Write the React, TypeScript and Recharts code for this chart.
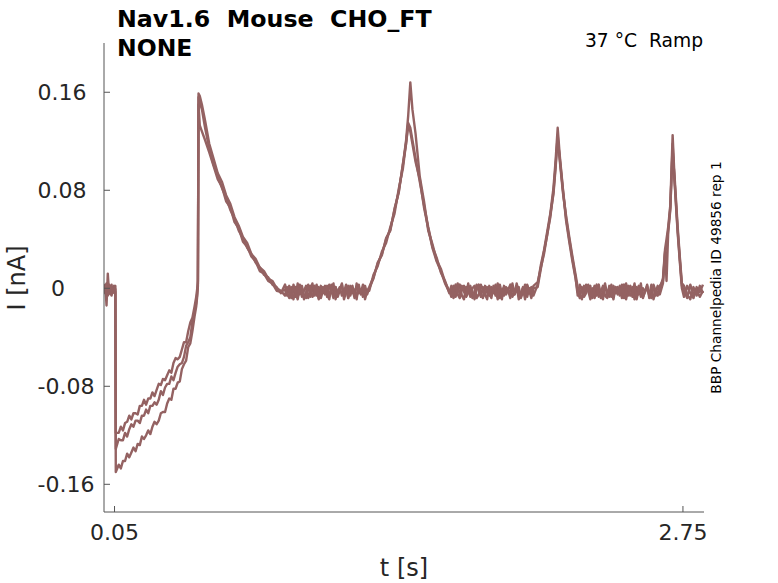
import React from 'react';
import { LineChart, Line, XAxis, YAxis } from 'recharts';

// time [s]
const T: number[] = [
  // holding
  0, 0.006, 0.012, 0.018, 0.024, 0.03, 0.036, 0.042, 0.048, 0.054,
  0.056,
  // first step
  0.07, 0.08, 0.09, 0.1, 0.11, 0.12, 0.13, 0.14, 0.15, 0.16,
  0.17, 0.18, 0.19, 0.2, 0.21, 0.22, 0.23, 0.24, 0.25, 0.26,
  0.27, 0.28, 0.29, 0.3, 0.31, 0.32, 0.33, 0.34, 0.35, 0.36,
  0.37, 0.38, 0.39, 0.4, 0.41, 0.42, 0.43, 0.438, 0.443, 0.446,
  0.449,
  // tail
  0.455, 0.465, 0.48, 0.5, 0.52, 0.54, 0.56, 0.58, 0.6, 0.62,
  0.64, 0.66, 0.68, 0.7, 0.72, 0.74, 0.76, 0.78, 0.8, 0.82, 0.84,
  // flat 1
  0.86, 0.87, 0.88, 0.89, 0.9, 0.91, 0.92, 0.93, 0.94, 0.95,
  0.96, 0.97, 0.98, 0.99, 1.0, 1.01, 1.02, 1.03, 1.04, 1.05,
  1.06, 1.07, 1.08, 1.09, 1.1, 1.11, 1.12, 1.13, 1.14, 1.15,
  1.16, 1.17, 1.18, 1.19, 1.2, 1.21, 1.22, 1.23, 1.24, 1.25,
  // ramp 1
  1.26, 1.28, 1.3, 1.32, 1.34, 1.36, 1.38, 1.4, 1.42, 1.435, 1.445,
  1.455, 1.465, 1.48, 1.5, 1.52, 1.54, 1.56, 1.58, 1.6, 1.62, 1.64,
  // flat 2
  1.65, 1.66, 1.67, 1.68, 1.69, 1.7, 1.71, 1.72, 1.73, 1.74,
  1.75, 1.76, 1.77, 1.78, 1.79, 1.8, 1.81, 1.82, 1.83, 1.84,
  1.85, 1.86, 1.87, 1.88, 1.89, 1.9, 1.91, 1.92, 1.93, 1.94,
  1.95, 1.96, 1.97, 1.98, 1.99, 2.0, 2.01, 2.02, 2.03, 2.04,
  // ramp 2
  2.06, 2.075, 2.09, 2.105, 2.12, 2.135, 2.145, 2.155, 2.165, 2.18, 2.195, 2.21, 2.225, 2.24,
  // flat 3
  2.25, 2.26, 2.27, 2.28, 2.29, 2.3, 2.31, 2.32, 2.33, 2.34,
  2.35, 2.36, 2.37, 2.38, 2.39, 2.4, 2.41, 2.42, 2.43, 2.44,
  2.45, 2.46, 2.47, 2.48, 2.49, 2.5, 2.51, 2.52, 2.53, 2.54,
  2.55, 2.56, 2.57, 2.58, 2.59, 2.6, 2.61, 2.62, 2.63, 2.64,
  // ramp 3
  2.655, 2.665, 2.672, 2.68, 2.69, 2.701, 2.708, 2.715, 2.725, 2.735, 2.745,
  // flat 4
  2.755, 2.77, 2.785, 2.8, 2.815, 2.83, 2.845,
];

// current [nA], repetition 1
const I1: number[] = [
  0.001, -0.004, 0.002, -0.002, 0.003, -0.005, 0.0, -0.003, 0.002, -0.001,
  -0.150,
  -0.144, -0.147, -0.141, -0.141, -0.135, -0.138, -0.134, -0.130, -0.133, -0.127,
  -0.128, -0.121, -0.123, -0.120, -0.116, -0.119, -0.113, -0.109, -0.111, -0.108,
  -0.102, -0.101, -0.101, -0.094, -0.090, -0.091, -0.082, -0.082, -0.077, -0.076,
  -0.066, -0.062, -0.059, -0.048, -0.045, -0.035, -0.023, -0.015, -0.006, 0.002,
  0.150,
  0.133, 0.128, 0.121, 0.111, 0.100, 0.089, 0.083, 0.071, 0.066, 0.054,
  0.049, 0.038, 0.034, 0.026, 0.022, 0.014, 0.012, 0.006, 0.004, -0.002, -0.003,
  -0.001, -0.006, 0.002, -0.004, -0.009, 0.001, -0.005, 0.003, -0.007, -0.002,
  0.002, -0.008, -0.003, 0.004, -0.006, -0.001, -0.009, 0.002, -0.004, 0.0,
  -0.007, 0.003, -0.002, -0.008, 0.001, -0.005, -0.001, 0.003, -0.009, -0.003,
  0.002, -0.006, 0.0, -0.008, 0.004, -0.004, -0.001, -0.007, 0.002, -0.005,
  0.0, 0.008, 0.021, 0.027, 0.041, 0.047, 0.065, 0.078, 0.102, 0.118, 0.133,
  0.128, 0.118, 0.103, 0.089, 0.066, 0.049, 0.033, 0.022, 0.014, 0.004, -0.003,
  -0.004, 0.002, -0.007, -0.001, 0.003, -0.006, -0.009, 0.001, -0.003, 0.002,
  -0.008, -0.004, 0.003, -0.002, -0.007, 0.001, -0.005, -0.009, 0.002, -0.003,
  0.0, -0.006, 0.004, -0.008, -0.002, 0.001, -0.005, -0.001, 0.003, -0.007,
  -0.003, 0.002, -0.009, -0.004, 0.001, -0.006, 0.003, -0.002, -0.008, 0.0,
  0.001, 0.016, 0.030, 0.043, 0.060, 0.077, 0.098, 0.122, 0.106, 0.080, 0.055, 0.038, 0.022, 0.008,
  -0.003, -0.008, 0.001, -0.005, 0.003, -0.002, -0.009, -0.004, 0.002, -0.006,
  0.001, -0.008, -0.003, 0.004, -0.005, -0.001, -0.007, 0.002, -0.004, 0.001,
  -0.006, -0.002, 0.003, -0.009, -0.001, 0.002, -0.007, -0.004, 0.001, -0.005,
  0.004, -0.008, -0.002, 0.0, -0.006, 0.003, -0.009, -0.003, 0.002, -0.005,
  0.004, 0.028, 0.035, 0.047, 0.066, 0.113, 0.095, 0.073, 0.045, 0.022, 0.0,
  -0.007, 0.002, -0.004, -0.008, 0.001, -0.003, 0.003,
];

// current [nA], repetition 2
const I2: number[] = [
  -0.002, 0.003, -0.014, 0.012, -0.004, 0.002, -0.006, 0.001, -0.003, 0.002,
  -0.131,
  -0.123, -0.124, -0.124, -0.118, -0.121, -0.115, -0.111, -0.113, -0.108, -0.108,
  -0.110, -0.104, -0.104, -0.099, -0.102, -0.096, -0.096, -0.093, -0.095, -0.091,
  -0.084, -0.087, -0.081, -0.078, -0.078, -0.072, -0.075, -0.069, -0.064, -0.062,
  -0.061, -0.056, -0.047, -0.044, -0.040, -0.027, -0.019, -0.012, -0.004, 0.004,
  0.156,
  0.152, 0.146, 0.131, 0.114, 0.101, 0.092, 0.082, 0.074, 0.064, 0.057,
  0.047, 0.041, 0.033, 0.028, 0.021, 0.017, 0.011, 0.009, 0.003, 0.001, -0.004,
  0.003, -0.004, -0.008, 0.001, -0.002, -0.007, 0.004, -0.005, 0.0, -0.009,
  -0.003, 0.003, -0.007, -0.001, 0.002, -0.006, 0.001, -0.008, -0.002, 0.002,
  -0.005, -0.009, 0.003, -0.003, 0.001, -0.007, -0.002, 0.004, -0.006, 0.0,
  -0.008, 0.002, -0.004, -0.001, -0.009, 0.003, -0.005, 0.001, -0.007, -0.002,
  -0.002, 0.011, 0.018, 0.030, 0.037, 0.050, 0.061, 0.081, 0.098, 0.119, 0.135,
  0.131, 0.121, 0.106, 0.087, 0.068, 0.050, 0.034, 0.025, 0.013, 0.006, -0.004,
  0.002, -0.008, -0.003, 0.004, -0.006, -0.001, 0.002, -0.007, -0.004, 0.001,
  -0.002, -0.009, -0.001, 0.003, -0.005, -0.008, 0.002, -0.002, -0.006, 0.001,
  -0.004, 0.003, -0.007, -0.001, -0.009, 0.002, -0.003, 0.0, -0.006, 0.004,
  -0.005, -0.002, 0.001, -0.008, -0.003, 0.003, -0.007, 0.0, -0.004, 0.002,
  0.005, 0.017, 0.028, 0.044, 0.058, 0.079, 0.100, 0.125, 0.104, 0.078, 0.059, 0.042, 0.026, 0.011,
  0.001, -0.005, -0.009, 0.002, -0.003, 0.003, -0.006, 0.0, -0.008, -0.002,
  0.003, -0.005, -0.009, 0.001, -0.002, -0.007, 0.003, -0.006, -0.001, -0.005,
  0.002, -0.008, -0.003, 0.004, -0.006, -0.001, 0.001, -0.009, -0.004, 0.002,
  -0.007, 0.0, -0.003, 0.003, -0.008, -0.002, 0.001, -0.006, -0.004, 0.002,
  0.006, 0.030, 0.006, 0.046, 0.064, 0.118, 0.093, 0.075, 0.047, 0.024, 0.002,
  -0.002, -0.008, 0.003, -0.005, -0.001, -0.007, -0.002,
];

// current [nA], repetition 3
const I3: number[] = [
  0.002, -0.003, 0.004, -0.006, 0.001, -0.002, 0.003, -0.004, 0.0, -0.003,
  -0.118,
  -0.118, -0.113, -0.116, -0.110, -0.109, -0.104, -0.107, -0.102, -0.102, -0.103,
  -0.096, -0.096, -0.091, -0.095, -0.090, -0.090, -0.085, -0.088, -0.083, -0.078,
  -0.079, -0.074, -0.075, -0.071, -0.067, -0.069, -0.061, -0.057, -0.058, -0.056,
  -0.050, -0.044, -0.044, -0.035, -0.028, -0.024, -0.015, -0.007, 0.0, 0.006,
  0.159,
  0.157, 0.150, 0.137, 0.118, 0.106, 0.094, 0.087, 0.076, 0.069, 0.058,
  0.051, 0.042, 0.037, 0.028, 0.024, 0.017, 0.014, 0.008, 0.006, 0.0, -0.002,
  -0.006, 0.001, -0.003, -0.008, 0.003, -0.004, -0.009, 0.0, 0.002, -0.006,
  -0.008, 0.001, 0.002, -0.007, -0.004, 0.003, -0.008, -0.003, 0.001, -0.005,
  0.002, -0.007, -0.001, 0.004, -0.009, -0.002, 0.001, -0.006, -0.003, 0.003,
  -0.008, -0.001, 0.002, -0.005, -0.007, 0.001, -0.004, 0.003, -0.009, -0.002,
  0.001, 0.009, 0.020, 0.028, 0.040, 0.048, 0.064, 0.079, 0.101, 0.121, 0.141,
  0.168, 0.146, 0.126, 0.091, 0.071, 0.047, 0.036, 0.023, 0.016, 0.005, -0.002,
  -0.007, -0.002, 0.003, -0.005, -0.008, 0.002, -0.003, -0.006, 0.004, -0.007,
  0.0, 0.002, -0.008, -0.005, 0.003, -0.002, -0.006, 0.001, -0.004, -0.008,
  0.002, -0.001, -0.009, 0.003, -0.004, -0.006, 0.001, -0.002, -0.008, 0.002,
  -0.005, 0.004, -0.003, -0.007, 0.0, -0.009, 0.002, -0.004, 0.001, -0.006,
  0.003, 0.019, 0.031, 0.046, 0.061, 0.082, 0.104, 0.131, 0.108, 0.081, 0.057, 0.040, 0.024, 0.009,
  -0.006, 0.003, -0.002, -0.007, -0.004, 0.001, 0.002, -0.008, -0.001, 0.003,
  -0.007, -0.003, 0.002, -0.006, -0.008, 0.002, -0.003, -0.009, 0.001, 0.0,
  -0.005, 0.003, -0.008, -0.002, 0.002, -0.006, -0.004, 0.004, -0.009, -0.001,
  0.001, -0.007, -0.003, 0.002, -0.005, -0.008, 0.003, -0.002, -0.006, 0.0,
  0.008, 0.032, 0.040, 0.050, 0.068, 0.125, 0.098, 0.078, 0.050, 0.026, 0.004,
  0.002, -0.005, -0.009, 0.001, -0.006, 0.002, -0.004,
];

const X_TICKS = [0.05, 2.75];
const Y_TICKS = [-0.16, -0.08, 0, 0.08, 0.16];
const X_DOMAIN: [number, number] = [0, 2.85];
const Y_DOMAIN: [number, number] = [-0.1826, 0.2002];

const TITLE_1 = 'Nav1.6  Mouse  CHO_FT';
const TITLE_2 = 'NONE';
const CONDITION = '37 °C  Ramp';
const SIDE_NOTE = 'BBP Channelpedia ID 49856 rep 1';
const X_LABEL = 't [s]';
const Y_LABEL = 'I [nA]';

const rows = T.map((t, i) => ({ t, a: I1[i], b: I2[i], c: I3[i] }));
const lengthsOk = T.length === I1.length && T.length === I2.length && T.length === I3.length;

const FONT = '"DejaVu Sans", sans-serif';
const AXIS = '#555555';
const TEXT = '#262626';
const TRACE = '#946262';
const TRACE_W = 2.4;

const YTick = (props: any) => {
  const { x, y, payload } = props;
  const label = String(payload.value);
  const shift = label.startsWith('-') ? 4 : label === '0' ? -4 : 0;
  return (
    <g>
      <line x1={x} x2={x + 6} y1={y} y2={y} stroke={AXIS} strokeWidth={1} />
      <text x={62 + shift} y={y} dy={8} textAnchor="middle" fontFamily={FONT} fontSize={22} fill={TEXT}>
        {label}
      </text>
    </g>
  );
};

const XTick = (props: any) => {
  const { x, y, payload } = props;
  return (
    <g>
      <line x1={x} x2={x} y1={y} y2={y - 6} stroke={AXIS} strokeWidth={1} />
      <text x={x} y={y + 28} textAnchor="middle" fontFamily={FONT} fontSize={22} fill={TEXT}>
        {String(payload.value)}
      </text>
    </g>
  );
};

export default function App() {
  return (
    <div style={{ position: 'absolute', left: 0, top: 0, width: 778, height: 583, background: '#fff' }}>
      <LineChart width={778} height={583} data={rows} margin={{ top: 43, right: 74, bottom: 31, left: 44 }}>
        <XAxis
          dataKey="t"
          type="number"
          domain={X_DOMAIN}
          ticks={X_TICKS}
          allowDataOverflow
          height={40}
          tickSize={0}
          tickMargin={0}
          tickLine={false}
          axisLine={{ stroke: AXIS, strokeWidth: 1 }}
          tick={<XTick />}
          interval={0}
        />
        <YAxis
          type="number"
          domain={Y_DOMAIN}
          ticks={Y_TICKS}
          allowDataOverflow
          width={60}
          tickSize={0}
          tickMargin={0}
          tickLine={false}
          axisLine={{ stroke: AXIS, strokeWidth: 1 }}
          tick={<YTick />}
          interval={0}
        />
        <Line dataKey="a" type="linear" stroke={TRACE} strokeWidth={TRACE_W} strokeLinejoin="round" dot={false} isAnimationActive={false} />
        <Line dataKey="b" type="linear" stroke={TRACE} strokeWidth={TRACE_W} strokeLinejoin="round" dot={false} isAnimationActive={false} />
        <Line dataKey="c" type="linear" stroke={TRACE} strokeWidth={TRACE_W} strokeLinejoin="round" dot={false} isAnimationActive={false} />
      </LineChart>
      <svg width={778} height={583} style={{ position: 'absolute', left: 0, top: 0, pointerEvents: 'none' }}>
        <text x={117} y={27} fontFamily={FONT} fontWeight="bold" fontSize={23.7} fill="#000" style={{ whiteSpace: 'pre' }}>
          {TITLE_1}
        </text>
        <text x={117} y={56} fontFamily={FONT} fontWeight="bold" fontSize={23.5} fill="#000">
          {TITLE_2}
        </text>
        <text x={703} y={47} textAnchor="end" fontFamily={FONT} fontSize={18.7} fill="#000" style={{ whiteSpace: 'pre' }}>
          {CONDITION}
        </text>
        <text x={404} y={576} textAnchor="middle" fontFamily={FONT} fontSize={24} fill={TEXT}>
          {X_LABEL}
        </text>
        <text x={25} y={278} textAnchor="middle" fontFamily={FONT} fontSize={24} fill={TEXT} transform="rotate(-90 25 278)">
          {Y_LABEL}
        </text>
        <text x={720.5} y={277.5} textAnchor="middle" fontFamily={FONT} fontSize={13.7} fill="#000" transform="rotate(-90 720.5 277.5)">
          {SIDE_NOTE}
        </text>
        {!lengthsOk && (
          <text x={300} y={300} fill="red" fontSize={20}>
            {`LEN ${T.length} ${I1.length} ${I2.length} ${I3.length}`}
          </text>
        )}
      </svg>
    </div>
  );
}
